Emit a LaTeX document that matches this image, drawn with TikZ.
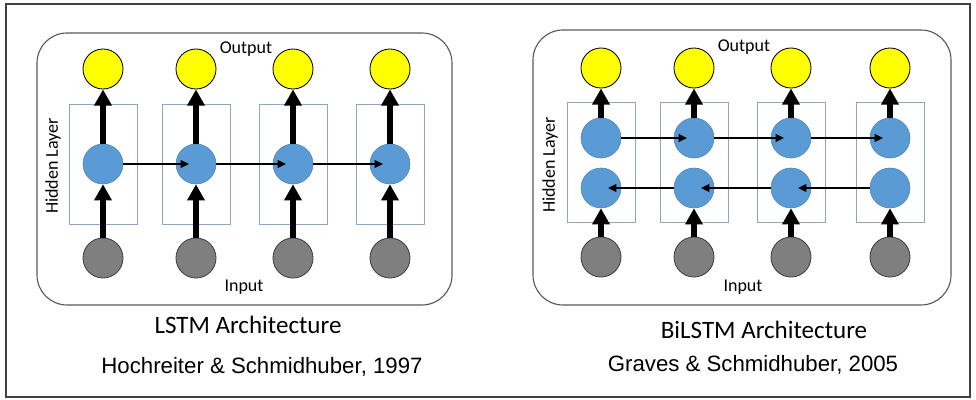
\documentclass[tikz,border=0pt]{standalone}
\usepackage{fontspec}
\setmainfont{Carlito}
\newfontfamily\citefont{Liberation Sans}
\usepackage{tikz}
\usetikzlibrary{arrows.meta}
\definecolor{lstm-out}{HTML}{FFFF00}
\definecolor{lstm-hid}{HTML}{5B9BD5}
\definecolor{lstm-in}{HTML}{7F7F7F}
\definecolor{lstm-box}{HTML}{8EA6BE}
\definecolor{lstm-frame}{HTML}{595959}

\tikzset{
  unit/.style={circle, minimum size=1cm, inner sep=0pt},
  outunit/.style={unit, fill=lstm-out, draw=black, line width=0.6pt},
  hidunit/.style={unit, fill=lstm-hid, draw=lstm-hid!85!black, line width=0.4pt},
  inunit/.style={unit, fill=lstm-in, draw=black!75, line width=0.6pt},
  cellbox/.style={draw=lstm-box, line width=0.6pt, minimum width=1.7cm, minimum height=3cm, inner sep=0pt},
  panel/.style={draw=lstm-frame, line width=0.8pt, rounded corners=0.75cm},
  feed/.style={line width=3.9pt, -{Triangle[width=12pt,length=11.5pt]}},
  recur/.style={line width=1.3pt, -{Triangle[width=5.5pt,length=6pt]}},
  tag/.style={font=\fontsize{12.8}{14}\selectfont, inner sep=0pt},
  title/.style={font=\fontsize{17.8}{20}\selectfont, inner sep=0pt},
  cite/.style={font=\citefont\fontsize{15.8}{18}\selectfont, inner sep=0pt}
}

\begin{document}
\begin{tikzpicture}[x=0.025cm, y=-0.025cm]
    \useasboundingbox (0,0) rectangle (976,400);
    \draw[black!75, line width=1pt] (6,4) rectangle (970,397);

    % LSTM
    \draw[panel] (37,33) rectangle (452,305);
    \foreach \x [count=\i] in {103,196,293,390} {
        \node[cellbox] (box\i) at (\x,164) {};
        \node[outunit] (out\i) at (\x,69) {};
        \node[hidunit] (hid\i) at (\x,164) {};
        \node[inunit] (in\i) at (\x,258) {};
        \draw[feed] (in\i) -- (hid\i);
        \draw[feed] (hid\i) -- (out\i);
    }
    \foreach \i/\j in {1/2,2/3,3/4}
        \draw[recur] (hid\i.east) -- ([xshift=-5pt]hid\j.center);
    \node[tag] (lout) at (246,49) {Output};
    \node[tag] (lin) at (244,287) {Input};
    \node[tag, rotate=90] (lhid) at (53,166) {Hidden Layer};
    \node[title] (ltitle) at (248,325) {LSTM Architecture};
    \node[cite] (lcite) at (262,367) {Hochreiter \& Schmidhuber, 1997};

    % BiLSTM
    \draw[panel] (533,30) rectangle (951,305);
    \foreach \x [count=\i] in {601,694,791,890} {
        \node[cellbox] (bbox\i) at (\x,162) {};
        \node[outunit] (bout\i) at (\x,68) {};
        \node[hidunit] (fw\i) at (\x,138) {};
        \node[hidunit] (bw\i) at (\x,188) {};
        \node[inunit] (bin\i) at (\x,257) {};
        \draw[feed] (bin\i) -- (bw\i);
        \draw[feed] (fw\i) -- (bout\i);
    }
    \foreach \i/\j in {1/2,2/3,3/4} {
        \draw[recur] (fw\i.east) -- ([xshift=-5pt]fw\j.center);
        \draw[recur] (bw\j.west) -- ([xshift=5pt]bw\i.center);
    }
    \node[tag] (rout) at (744,47) {Output};
    \node[tag] (rin) at (743,287) {Input};
    \node[tag, rotate=90] (rhid) at (550,165) {Hidden Layer};
    \node[title] (rtitle) at (764,330) {BiLSTM Architecture};
    \node[cite] (rcite) at (753,365) {Graves \& Schmidhuber, 2005};
\end{tikzpicture}
\end{document}
